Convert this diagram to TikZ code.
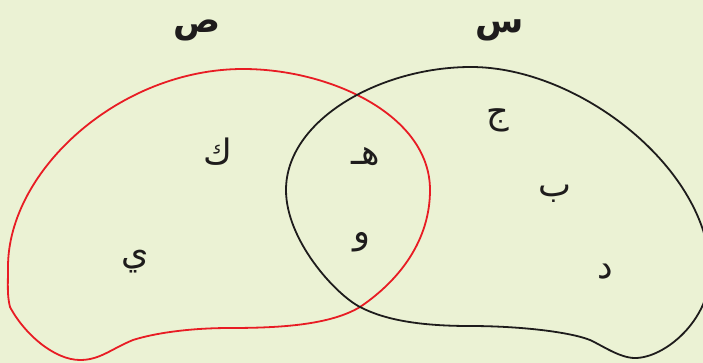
\documentclass[tikz,border=0pt]{standalone}
\usepackage{fontspec}
\newfontfamily\arabicfont[Script=Arabic]{DejaVu Sans}
\TeXXeTstate=1
\definecolor{bgc}{RGB}{235,242,212}
\definecolor{redc}{RGB}{232,28,36}
\definecolor{ink}{RGB}{30,28,28}
\begin{document}
\begin{tikzpicture}[x=1pt,y=-1pt,
  lett/.style={font=\arabicfont\fontsize{35}{40}\selectfont, inner sep=0pt, text=ink},
  head/.style={font=\arabicfont\bfseries\fontsize{35}{40}\selectfont, inner sep=0pt, text=ink},
  setline/.style={line width=1.8pt}]
\fill[bgc] (0,0) rectangle (703,363);
\useasboundingbox (0,0) rectangle (703,363);
\begin{scope}
\clip (0,0) rectangle (703,363);
\draw[setline, redc] (243,69) .. controls (330,69) and (430,115) .. (430,190)
  .. controls (430,240) and (400,280) .. (360,307)
  .. controls (330,325) and (280,328) .. (230,328)
  .. controls (190,328) and (155,333) .. (133,340)
  .. controls (111,349) and (100,360) .. (80,360)
  .. controls (55,360) and (25,335) .. (10,307)
  .. controls (7,295) and (8,285) .. (8,267)
  .. controls (8,170) and (120,69) .. (243,69) -- cycle;
\draw[setline, ink] (471,67) .. controls (580,67) and (710,170) .. (710,272)
  .. controls (710,320) and (665,358) .. (635,358)
  .. controls (620,358) and (603,346) .. (590,340)
  .. controls (570,332) and (520,326) .. (470,326)
  .. controls (420,326) and (385,320) .. (360,307)
  .. controls (335,294) and (286,240) .. (286,190)
  .. controls (286,120) and (380,67) .. (471,67) -- cycle;
\end{scope}
\node[head] (hs) at (197,30) {\beginR ص\endR};
\node[head] (hn) at (500,30) {\beginR س\endR};
\node[lett] (k) at (218,152) {\beginR ك\endR};
\node[lett] (y) at (135,262) {\beginR ي\endR};
\node[lett] (h) at (366,157) {\beginR هـ\endR};
\node[lett] (w) at (362,242) {\beginR و\endR};
\node[lett] (j) at (498,120) {\beginR ج\endR};
\node[lett] (b) at (555,194) {\beginR ب\endR};
\node[lett] (d) at (605,272) {\beginR د\endR};
\end{tikzpicture}
\end{document}
